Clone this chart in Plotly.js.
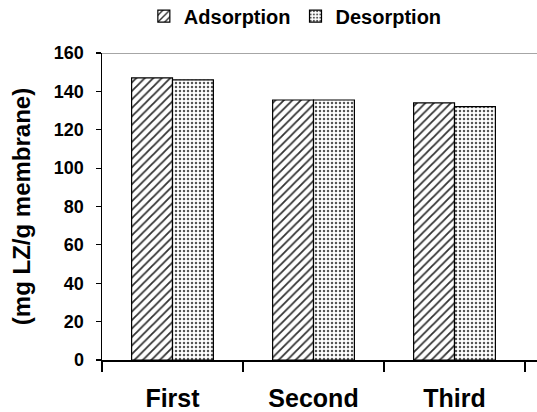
<!DOCTYPE html>
<html>
<head>
<meta charset="utf-8">
<script src="https://cdn.plot.ly/plotly-3.0.1.min.js"></script>
<style>html,body{margin:0;padding:0;background:#fff;}#chart{width:537px;height:412px;}</style>
</head>
<body>
<div id="chart"></div>
<script>
const categories = ["First", "Second", "Third"];
const adsorption = [147, 135.5, 134];
const desorption = [146, 135.5, 132];
const yTicks = [0, 20, 40, 60, 80, 100, 120, 140, 160];

const traces = [
  {
    type: "bar", name: "Adsorption", x: categories, y: adsorption,
    marker: {color: "#ffffff", line: {color: "#000", width: 1.2},
      pattern: {shape: "/", fgcolor: "#333", bgcolor: "#fff", size: 6, solidity: 0.3}}
  },
  {
    type: "bar", name: "Desorption", x: categories, y: desorption,
    marker: {color: "#ffffff", line: {color: "#000", width: 1.2},
      pattern: {shape: ".", fgcolor: "#555", bgcolor: "#fff", size: 4, solidity: 0.3}}
  }
];

const layout = {
  width: 537, height: 412,
  margin: {l: 102, r: 0, t: 53, b: 52},
  paper_bgcolor: "#fff", plot_bgcolor: "#fff",
  font: {family: "Arial, Liberation Sans, sans-serif", color: "#000"},
  barmode: "group", bargap: 0.42, bargroupgap: 0,
  showlegend: true,
  legend: {orientation: "h", xref: "container", x: 0.55, xanchor: "center",
    yref: "container", y: 0.961, yanchor: "middle",
    font: {size: 20, family: "Arial, Liberation Sans, sans-serif", weight: "bold"},
    itemwidth: 30, tracegroupgap: 0},
  xaxis: {
    range: [-0.5, 2.585], showgrid: false, zeroline: false,
    showline: true, linecolor: "#000", linewidth: 1.5,
    ticks: "outside", tickson: "boundaries", ticklen: 10, tickcolor: "#000", tickwidth: 1.5,
    ticklabelstandoff: 15,
    tickfont: {size: 25, weight: "bold"}
  },
  yaxis: {
    range: [0, 160], tickvals: yTicks, showgrid: false, zeroline: false,
    showline: true, linecolor: "#000", linewidth: 1.5,
    ticks: "outside", ticklen: 5, tickcolor: "#000", tickwidth: 1.2,
    ticklabelstandoff: 8,
    tickfont: {size: 18, weight: "bold"},
    title: {text: "(mg LZ/g membrane)", font: {size: 24, weight: "bold"}, standoff: 16}
  },
  shapes: [{type: "line", xref: "paper", yref: "y", x0: 0, x1: 1, y0: 160, y1: 160,
    line: {color: "#888", width: 1.5}}]
};

Plotly.newPlot("chart", traces, layout, {displayModeBar: false, staticPlot: true});
</script>
</body>
</html>
